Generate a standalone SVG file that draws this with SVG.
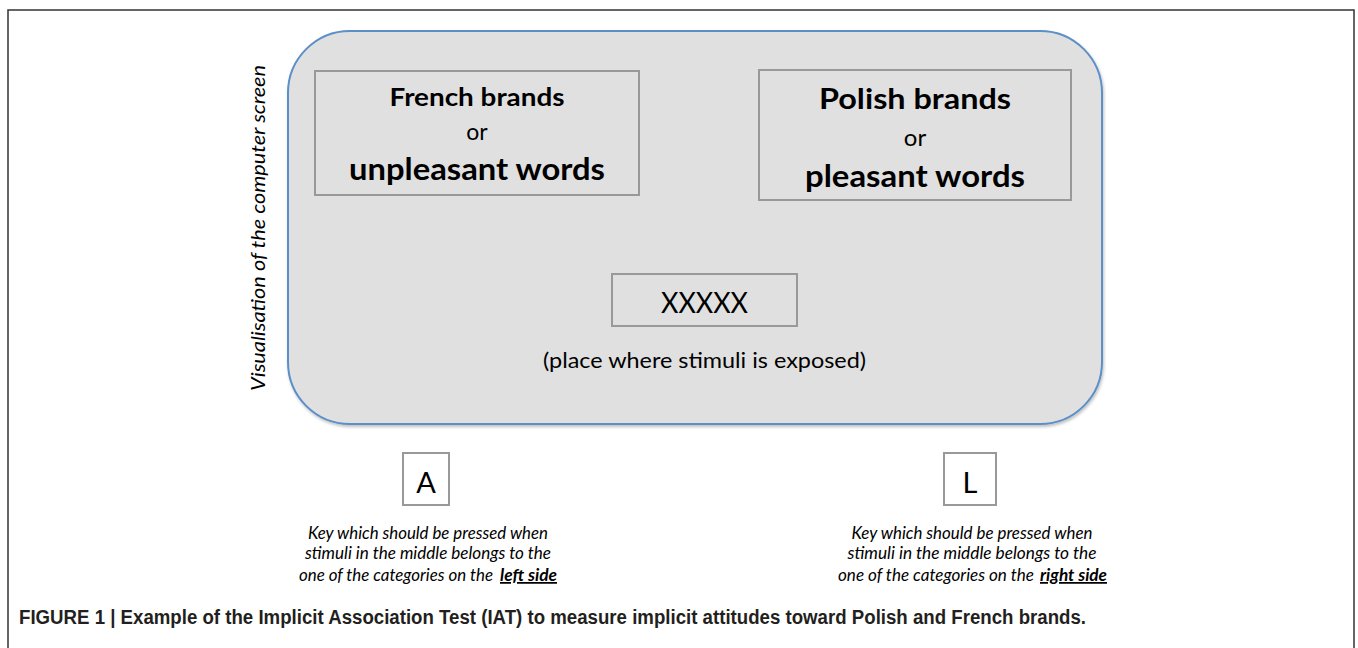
<svg xmlns="http://www.w3.org/2000/svg" width="1358" height="648" viewBox="0 0 1358 648">
<style>
.sans{font-family:Lato,"Open Sans","Liberation Sans",sans-serif;fill:#000}
.b{font-weight:bold}
.it{font-style:italic}
.cat{fill:#e0e0e0;stroke:#999;stroke-width:2}
.key{fill:#fff;stroke:#999;stroke-width:2}
.cap{font-family:"Liberation Sans",Arial,sans-serif;font-weight:bold;fill:#231f20}
</style>
<defs>
<filter id="sh" x="-5%" y="-5%" width="110%" height="115%">
<feDropShadow dx="1" dy="2" stdDeviation="1.5" flood-color="#000" flood-opacity="0.25"/>
</filter>
</defs>
<rect x="0" y="0" width="1358" height="648" fill="#fff"/>
<path d="M8,660 V10 H1354 V660" fill="none" stroke="#333" stroke-width="1.5"/>
<g id="screen">
<rect x="288" y="31" width="814" height="393" rx="62" ry="62" fill="#e0e0e0" stroke="#5b8fc7" stroke-width="2" filter="url(#sh)"/>
<text class="sans it" x="265" y="228" font-size="20" text-anchor="middle" transform="rotate(-90 265 228)" textLength="326" lengthAdjust="spacingAndGlyphs">Visualisation of the computer screen</text>
</g>
<g id="left-category">
<rect class="cat" x="315" y="71" width="324" height="124"/>
<text class="sans b" x="477" y="106" font-size="25" text-anchor="middle" textLength="175" lengthAdjust="spacingAndGlyphs">French brands</text>
<text class="sans" x="477" y="140" font-size="23" text-anchor="middle">or</text>
<text class="sans b" x="477" y="180" font-size="30" text-anchor="middle" textLength="256" lengthAdjust="spacingAndGlyphs">unpleasant words</text>
</g>
<g id="right-category">
<rect class="cat" x="759" y="70" width="312" height="130"/>
<text class="sans b" x="915" y="109" font-size="29" text-anchor="middle" textLength="192" lengthAdjust="spacingAndGlyphs">Polish brands</text>
<text class="sans" x="915" y="146" font-size="24" text-anchor="middle">or</text>
<text class="sans b" x="915" y="187" font-size="30" text-anchor="middle" textLength="220" lengthAdjust="spacingAndGlyphs">pleasant words</text>
</g>
<g id="stimulus">
<rect class="cat" x="612" y="274" width="185" height="52"/>
<text class="sans" x="704.5" y="313" font-size="29" text-anchor="middle" textLength="87" lengthAdjust="spacingAndGlyphs">XXXXX</text>
<text class="sans" x="704.5" y="368" font-size="22" text-anchor="middle" textLength="323" lengthAdjust="spacingAndGlyphs">(place where stimuli is exposed)</text>
</g>
<g id="key-a">
<rect class="key" x="403" y="453" width="46" height="52"/>
<text class="sans" x="426" y="493" font-size="29" text-anchor="middle">A</text>
<text class="sans it" x="428" y="539" font-size="18" text-anchor="middle" textLength="240" lengthAdjust="spacingAndGlyphs">Key which should be pressed when</text>
<text class="sans it" x="428" y="559" font-size="18" text-anchor="middle" textLength="246" lengthAdjust="spacingAndGlyphs">stimuli in the middle belongs to the</text>
<text class="sans it" x="493" y="581" font-size="18" text-anchor="end" textLength="194" lengthAdjust="spacingAndGlyphs">one of the categories on the</text>
<text class="sans it b" x="500" y="581" font-size="17.5" text-decoration="underline" textLength="57" lengthAdjust="spacingAndGlyphs">left side</text>
</g>
<g id="key-l">
<rect class="key" x="944" y="453" width="52" height="52"/>
<text class="sans" x="970" y="493" font-size="29" text-anchor="middle">L</text>
<text class="sans it" x="972" y="539" font-size="18" text-anchor="middle" textLength="241" lengthAdjust="spacingAndGlyphs">Key which should be pressed when</text>
<text class="sans it" x="972" y="559" font-size="18" text-anchor="middle" textLength="249" lengthAdjust="spacingAndGlyphs">stimuli in the middle belongs to the</text>
<text class="sans it" x="1034" y="581" font-size="18" text-anchor="end" textLength="196" lengthAdjust="spacingAndGlyphs">one of the categories on the</text>
<text class="sans it b" x="1040" y="581" font-size="17.5" text-decoration="underline" textLength="67" lengthAdjust="spacingAndGlyphs">right side</text>
</g>
<g id="connectors"></g>
<text class="cap" x="19" y="624" font-size="19.5" textLength="1067" lengthAdjust="spacingAndGlyphs">FIGURE 1 | Example of the Implicit Association Test (IAT) to measure implicit attitudes toward Polish and French brands.</text>
</svg>
